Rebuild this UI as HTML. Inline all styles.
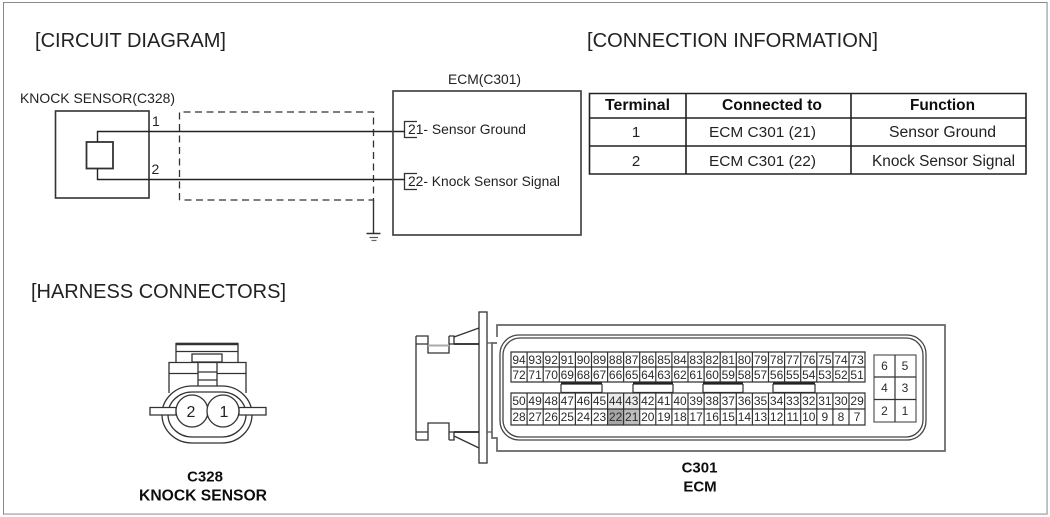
<!DOCTYPE html>
<html>
<head>
<meta charset="utf-8">
<style>
html,body{margin:0;padding:0;background:#fff}
svg{display:block;font-family:"Liberation Sans",sans-serif}
text{fill:#222}
.b{font-weight:bold;fill:#111}
.c{text-anchor:middle}
.n{font-size:12px;text-anchor:middle;fill:#2c2c2c}
</style>
</head>
<body>
<svg width="1050" height="517" viewBox="0 0 1050 517" xmlns="http://www.w3.org/2000/svg">
<defs><filter id="s" x="0" y="0" width="100%" height="100%"><feGaussianBlur stdDeviation="0.35"/></filter></defs>
<rect width="1050" height="517" fill="#fff"/>
<g filter="url(#s)">
<path d="M3 514.5V2H1047.5V514.5H3" fill="none" stroke="#7a7a7a" stroke-width="1.8"/>

<!-- headings -->
<text x="35" y="47" font-size="20" textLength="191" lengthAdjust="spacingAndGlyphs">[CIRCUIT DIAGRAM]</text>
<text x="587" y="47" font-size="20" textLength="291" lengthAdjust="spacingAndGlyphs">[CONNECTION INFORMATION]</text>
<text x="31" y="298" font-size="20" textLength="255" lengthAdjust="spacingAndGlyphs">[HARNESS CONNECTORS]</text>

<!-- circuit -->
<text x="20" y="103" font-size="14" textLength="155" lengthAdjust="spacingAndGlyphs">KNOCK SENSOR(C328)</text>
<text x="448" y="84" font-size="14" textLength="73" lengthAdjust="spacingAndGlyphs">ECM(C301)</text>
<rect x="55.500" y="111" width="93.500" height="87" fill="none" stroke="#333" stroke-width="1.6"/>
<rect x="86.500" y="142" width="26.500" height="26.500" fill="none" stroke="#333" stroke-width="1.8"/>
<path d="M97.500 142V131.500H405M97.500 168.500V179.500H405" fill="none" stroke="#222" stroke-width="1.4"/>
<text x="152" y="126" font-size="14">1</text>
<text x="151.500" y="174" font-size="14">2</text>
<path d="M179.500 200V112H373.500V200H179.500" fill="none" stroke="#333" stroke-width="1.3" stroke-dasharray="7 4.500"/>
<path d="M373.500 200V233" fill="none" stroke="#333" stroke-width="1.4"/>
<path d="M366.500 233.500H380.500" stroke="#333" stroke-width="1.5"/>
<path d="M369.500 237.500H378" stroke="#555" stroke-width="1.2"/>
<path d="M371.500 240.500H376.500" stroke="#666" stroke-width="1.2"/>
<rect x="393" y="91" width="188" height="144" fill="none" stroke="#444" stroke-width="1.7"/>
<path d="M417 121.500H404.500V137.500H417M417 173.500H404.500V189.500H417" fill="none" stroke="#333" stroke-width="1.3"/>
<text x="408" y="134" font-size="14" textLength="118" lengthAdjust="spacingAndGlyphs">21- Sensor Ground</text>
<text x="408" y="186" font-size="14" textLength="152" lengthAdjust="spacingAndGlyphs">22- Knock Sensor Signal</text>

<!-- table -->
<path d="M589.500 93.500H1026V174H589.500ZM589.500 118H1026M589.500 146H1026M686 93.500V174M851 93.500V174" fill="none" stroke="#222" stroke-width="1.6"/>
<text class="b" x="605" y="110" font-size="15.500" textLength="65" lengthAdjust="spacingAndGlyphs">Terminal</text>
<text class="b" x="722" y="110" font-size="15.500" textLength="100" lengthAdjust="spacingAndGlyphs">Connected to</text>
<text class="b" x="910" y="110" font-size="15.500" textLength="65" lengthAdjust="spacingAndGlyphs">Function</text>
<text class="c" x="636" y="137" font-size="15">1</text>
<text x="709" y="137" font-size="15" textLength="107" lengthAdjust="spacingAndGlyphs">ECM C301 (21)</text>
<text x="889" y="137" font-size="15.500" textLength="107" lengthAdjust="spacingAndGlyphs">Sensor Ground</text>
<text class="c" x="636" y="166" font-size="15">2</text>
<text x="709" y="166" font-size="15" textLength="107" lengthAdjust="spacingAndGlyphs">ECM C301 (22)</text>
<text x="872" y="166" font-size="15.500" textLength="143" lengthAdjust="spacingAndGlyphs">Knock Sensor Signal</text>

<!-- C328 connector -->
<g fill="#fff" stroke="#333" stroke-width="1.3">
<path d="M176 362V343.500H238V362"/>
<path d="M176 344H238" stroke-width="2.400"/>
<path d="M176 351.500H238"/>
<rect x="192" y="354" width="30" height="8"/>
<path d="M169 393V362.500H246V393"/>
<path d="M169 373.500H198M217 373.500H246"/>
<path d="M198 362.500V387M217 362.500V387M198 372H217M198 380H217" fill="none"/>
<rect x="162" y="386" width="90" height="57" rx="30" ry="29"/>
<rect x="168" y="392" width="78" height="45" rx="24" ry="23"/>
<path d="M150 407.500H176V415H150Z"/>
<path d="M239 407.500H266V415H239Z"/>
<circle cx="192" cy="411" r="16"/>
<circle cx="223" cy="411" r="16"/>
</g>
<text class="c" x="191" y="417" font-size="16">2</text>
<text class="c" x="224" y="417" font-size="16">1</text>
<text class="b c" x="205" y="481.500" font-size="15">C328</text>
<text class="b" x="139" y="500.500" font-size="16" textLength="128" lengthAdjust="spacingAndGlyphs">KNOCK SENSOR</text>

<!-- C301 connector -->
<g fill="none" stroke="#444" stroke-width="1.3">
<path d="M497 337V325H945V451H497V438H492V343H497" stroke="#666" stroke-width="1.7"/>
<rect x="500" y="335" width="426" height="105" rx="19"/>
<rect x="503" y="338" width="420" height="99" rx="17"/>
<rect x="479" y="312" width="8" height="151" fill="#fff" stroke="#333"/>
<path d="M487 343H492M487 432H492" stroke="#555"/>
<path d="M416 336V440M416 336H428V344H416M428 344V353H449V344M449 336H454V344H449M449 336V344M454 337L479 328M416 440H428V432H416M428 432V423H449V432M449 440H454V432H449M449 440V432M454 436L479 448" stroke="#333"/>
<path d="M428 345.500H449" stroke="#aaa" stroke-width="2"/>
<path d="M454 344H479M454 432H479" stroke="#222" stroke-width="1.800"/>
</g>
<rect x="607.500" y="409" width="16" height="16" fill="#a6a6a6"/>
<rect x="623.500" y="409" width="16" height="16" fill="#bdbdbd"/>
<rect x="607.500" y="393" width="32" height="16" fill="#eaeaea"/>
<g fill="none" stroke="#333" stroke-width="1.200">
<path d="M511 352H865V382H511ZM511 367H865"/>
<path d="M511 393H865V425H511ZM511 409H865"/>
<path d="M527.100 352V382M543.200 352V382M559.300 352V382M575.400 352V382M591.500 352V382M607.600 352V382M623.600 352V382M639.700 352V382M655.800 352V382M671.900 352V382M688 352V382M704.100 352V382M720.200 352V382M736.300 352V382M752.400 352V382M768.500 352V382M784.600 352V382M800.700 352V382M816.800 352V382M832.900 352V382M849 352V382"/>
<path d="M527.100 393V425M543.200 393V425M559.300 393V425M575.400 393V425M591.500 393V425M607.600 393V425M623.600 393V425M639.700 393V425M655.800 393V425M671.900 393V425M688 393V425M704.100 393V425M720.200 393V425M736.300 393V425M752.400 393V425M768.500 393V425M784.600 393V425M800.700 393V425M816.800 393V425M832.900 393V425M849 393V425"/>
<path d="M561 383.500H602M633 383.500H673M703 383.500H743M773 383.500H815" stroke="#222" stroke-width="2.200"/>
<path d="M561 384V392.500H602V384M633 384V392.500H673V384M703 384V392.500H743V384M773 384V392.500H815V384"/>
<rect x="874" y="355" width="42" height="67" stroke="#555"/>
<path d="M895 355V422M874 377H916M874 399.500H916"/>
</g>
<text class="n" y="364"><tspan x="519">94</tspan><tspan x="535.100">93</tspan><tspan x="551.200">92</tspan><tspan x="567.300">91</tspan><tspan x="583.400">90</tspan><tspan x="599.500">89</tspan><tspan x="615.600">88</tspan><tspan x="631.700">87</tspan><tspan x="647.800">86</tspan><tspan x="663.900">85</tspan><tspan x="680">84</tspan><tspan x="696.100">83</tspan><tspan x="712.200">82</tspan><tspan x="728.300">81</tspan><tspan x="744.400">80</tspan><tspan x="760.500">79</tspan><tspan x="776.600">78</tspan><tspan x="792.700">77</tspan><tspan x="808.800">76</tspan><tspan x="824.900">75</tspan><tspan x="841">74</tspan><tspan x="857.100">73</tspan></text>
<text class="n" y="379"><tspan x="519">72</tspan><tspan x="535.100">71</tspan><tspan x="551.200">70</tspan><tspan x="567.300">69</tspan><tspan x="583.400">68</tspan><tspan x="599.500">67</tspan><tspan x="615.600">66</tspan><tspan x="631.700">65</tspan><tspan x="647.800">64</tspan><tspan x="663.900">63</tspan><tspan x="680">62</tspan><tspan x="696.100">61</tspan><tspan x="712.200">60</tspan><tspan x="728.300">59</tspan><tspan x="744.400">58</tspan><tspan x="760.500">57</tspan><tspan x="776.600">56</tspan><tspan x="792.700">55</tspan><tspan x="808.800">54</tspan><tspan x="824.900">53</tspan><tspan x="841">52</tspan><tspan x="857.100">51</tspan></text>
<text class="n" y="405"><tspan x="519">50</tspan><tspan x="535.100">49</tspan><tspan x="551.200">48</tspan><tspan x="567.300">47</tspan><tspan x="583.400">46</tspan><tspan x="599.500">45</tspan><tspan x="615.600">44</tspan><tspan x="631.700">43</tspan><tspan x="647.800">42</tspan><tspan x="663.900">41</tspan><tspan x="680">40</tspan><tspan x="696.100">39</tspan><tspan x="712.200">38</tspan><tspan x="728.300">37</tspan><tspan x="744.400">36</tspan><tspan x="760.500">35</tspan><tspan x="776.600">34</tspan><tspan x="792.700">33</tspan><tspan x="808.800">32</tspan><tspan x="824.900">31</tspan><tspan x="841">30</tspan><tspan x="857.100">29</tspan></text>
<text class="n" y="421"><tspan x="519">28</tspan><tspan x="535.100">27</tspan><tspan x="551.200">26</tspan><tspan x="567.300">25</tspan><tspan x="583.400">24</tspan><tspan x="599.500">23</tspan><tspan x="615.600">22</tspan><tspan x="631.700">21</tspan><tspan x="647.800">20</tspan><tspan x="663.900">19</tspan><tspan x="680">18</tspan><tspan x="696.100">17</tspan><tspan x="712.200">16</tspan><tspan x="728.300">15</tspan><tspan x="744.400">14</tspan><tspan x="760.500">13</tspan><tspan x="776.600">12</tspan><tspan x="792.700">11</tspan><tspan x="808.800">10</tspan><tspan x="824.900">9</tspan><tspan x="841">8</tspan><tspan x="857.100">7</tspan></text>
<text class="n" y="370"><tspan x="884.500">6</tspan><tspan x="905">5</tspan></text>
<text class="n" y="392"><tspan x="884.500">4</tspan><tspan x="905">3</tspan></text>
<text class="n" y="415"><tspan x="884.500">2</tspan><tspan x="905">1</tspan></text>
<text class="b c" x="699.500" y="472.500" font-size="15">C301</text>
<text class="b c" x="700" y="491.500" font-size="15">ECM</text>
</g>
</svg>
</body>
</html>
